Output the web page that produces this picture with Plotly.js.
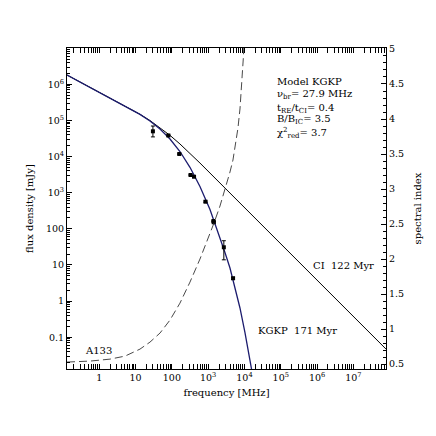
<!DOCTYPE html>
<html><head><meta charset="utf-8">
<script src="https://cdn.plot.ly/plotly-3.0.1.min.js"></script>
<style>html,body{margin:0;padding:0;background:#fff}#chart{width:436px;height:436px}</style>
</head><body><div id="chart"></div>
<script>
// observed flux densities of A133
const obsFreq = [30, 80, 160, 327, 408, 843, 1400, 1425, 2700, 4850];
const obsFlux = [50000, 38300, 11800, 3090, 2770, 564, 165, 152, 30.9, 4.29];
const obsErrPlus = [20000, 1500, 500, 120, 110, 25, 7, 7, 16, 0.3];
const obsErrMinus = [15000, 1500, 500, 120, 110, 25, 7, 7, 17, 0.3];

// KGKP model curve
const kgkpFreq = [0.129, 1.045, 7.01, 13.2, 24.9, 47.0, 88.7, 167, 315, 594, 1122, 2115, 2900, 3990, 5480, 7520, 10300, 14200, 20700];
const kgkpFlux = [1.81e6, 5.93e5, 2.14e5, 1.47e5, 9.59e4, 5.76e4, 3.06e4, 1.38e4, 5050, 1490, 344, 59.6, 22.2, 8.26, 2.50, 0.646, 0.137, 0.0235, 0.00277];

// CI model curve
const ciFreq = [0.129, 1.045, 7.01, 13.2, 24.9, 47.0, 88.7, 167, 315, 594, 7.91e7];
const ciFlux = [1.81e6, 5.93e5, 2.14e5, 1.48e5, 9.94e4, 6.35e4, 3.86e4, 2.23e4, 1.24e4, 6620, 0.0474];

// spectral index of KGKP model
const specFreq = [0.129, 0.555, 1.97, 5.11, 13.2, 24.9, 47.0, 88.7, 167, 315, 594, 926, 1445, 2115, 2900, 3990, 4820, 5830, 6620, 7520, 8530, 9380, 10000];
const specIndex = [0.529, 0.543, 0.571, 0.614, 0.714, 0.814, 0.943, 1.129, 1.371, 1.671, 2.0, 2.243, 2.514, 2.757, 2.986, 3.243, 3.414, 3.657, 3.871, 4.143, 4.5, 4.9, 5.271];

// tick labels
const xTickVals = [1, 10, 100, 1e3, 1e4, 1e5, 1e6, 1e7];
const xTickText = ['1', '10', '100', '10<sup>3</sup>', '10<sup>4</sup>', '10<sup>5</sup>', '10<sup>6</sup>', '10<sup>7</sup>'];
const yTickVals = [0.1, 1, 10, 100, 1e3, 1e4, 1e5, 1e6];
const yTickText = ['0.1', '1', '10', '100', '10<sup>3</sup>', '10<sup>4</sup>', '10<sup>5</sup>', '10<sup>6</sup>'];
const y2TickVals = [0.5, 1, 1.5, 2, 2.5, 3, 3.5, 4, 4.5, 5];

function logMinor(lo, hi) {
  const out = [];
  for (let e = lo; e <= hi; e++) for (let m = 2; m <= 9; m++) out.push(m * Math.pow(10, e));
  return out;
}

const FONT = 'DejaVu Serif';
const traces = [
  {x: specFreq, y: specIndex, yaxis: 'y2', mode: 'lines', line: {color: '#333', width: 0.9, dash: '8px,4px'}, hoverinfo: 'skip'},
  {x: ciFreq, y: ciFlux, mode: 'lines', line: {color: '#000', width: 1}},
  {x: kgkpFreq, y: kgkpFlux, mode: 'lines', line: {color: '#1c1c6e', width: 1.3}},
  {x: obsFreq, y: obsFlux, mode: 'markers', marker: {symbol: 'square', size: 4, color: '#000'},
   error_y: {type: 'data', array: obsErrPlus, arrayminus: obsErrMinus, color: '#000', thickness: 1, width: 2}}
];

const axisCommon = {showline: true, linecolor: '#000', linewidth: 1, ticks: 'inside', ticklen: 5, tickcolor: '#000', showgrid: false, zeroline: false, tickfont: {family: FONT, size: 9.5, color: '#000'}};

const layout = {
  width: 436, height: 436,
  margin: {l: 67, r: 50, t: 48, b: 67},
  paper_bgcolor: '#fff', plot_bgcolor: '#fff',
  showlegend: false,
  font: {family: FONT, size: 10, color: '#000'},
  xaxis: Object.assign({}, axisCommon, {
    type: 'log', range: [-0.89, 7.90], mirror: 'allticks',
    tickmode: 'array', tickvals: xTickVals, ticktext: xTickText,
    minor: {tickmode: 'array', tickvals: logMinor(-1, 7), ticks: 'inside', ticklen: 3, tickcolor: '#000', showgrid: false},
    title: {text: 'frequency [MHz]', font: {family: FONT, size: 10}, standoff: 6}
  }),
  yaxis: Object.assign({}, axisCommon, {
    type: 'log', range: [-1.878, 7.004], mirror: false,
    tickmode: 'array', tickvals: yTickVals, ticktext: yTickText,
    minor: {tickmode: 'array', tickvals: logMinor(-2, 6), ticks: 'inside', ticklen: 3, tickcolor: '#000', showgrid: false},
    title: {text: 'flux density [mJy]', font: {family: FONT, size: 10}, standoff: 10}
  }),
  yaxis2: Object.assign({}, axisCommon, {
    overlaying: 'y', side: 'right', range: [0.43, 5.014],
    tickmode: 'array', tickvals: y2TickVals,
    minor: {dtick: 0.1, tick0: 0, ticks: 'inside', ticklen: 3, tickcolor: '#000', showgrid: false},
    title: {text: 'spectral index', font: {family: FONT, size: 10}, standoff: 10}
  }),
  annotations: [
    {xref: 'paper', yref: 'paper', x: 0.652, y: 0.895, xanchor: 'left', yanchor: 'middle', showarrow: false, text: 'Model KGKP'},
    {xref: 'paper', yref: 'paper', x: 0.652, y: 0.856, xanchor: 'left', yanchor: 'middle', showarrow: false, text: '\u03bd<sub>br</sub>= 27.9 MHz'},
    {xref: 'paper', yref: 'paper', x: 0.652, y: 0.813, xanchor: 'left', yanchor: 'middle', showarrow: false, text: 't<sub>RE</sub>/t<sub>CI</sub>= 0.4'},
    {xref: 'paper', yref: 'paper', x: 0.652, y: 0.776, xanchor: 'left', yanchor: 'middle', showarrow: false, text: 'B/B<sub>IC</sub>= 3.5'},
    {xref: 'paper', yref: 'paper', x: 0.652, y: 0.736, xanchor: 'left', yanchor: 'middle', showarrow: false, text: '\u03c7<sup>2</sup><sub>red</sub>= 3.7'},
    {xref: 'paper', yref: 'paper', x: 0.765, y: 0.321, xanchor: 'left', yanchor: 'middle', showarrow: false, text: 'CI  122 Myr'},
    {xref: 'paper', yref: 'paper', x: 0.594, y: 0.121, xanchor: 'left', yanchor: 'middle', showarrow: false, text: 'KGKP  171 Myr'},
    {xref: 'paper', yref: 'paper', x: 0.050, y: 0.059, xanchor: 'left', yanchor: 'middle', showarrow: false, text: 'A133'}
  ]
};

Plotly.newPlot('chart', traces, layout, {staticPlot: true, displayModeBar: false});
</script>
</body></html>
